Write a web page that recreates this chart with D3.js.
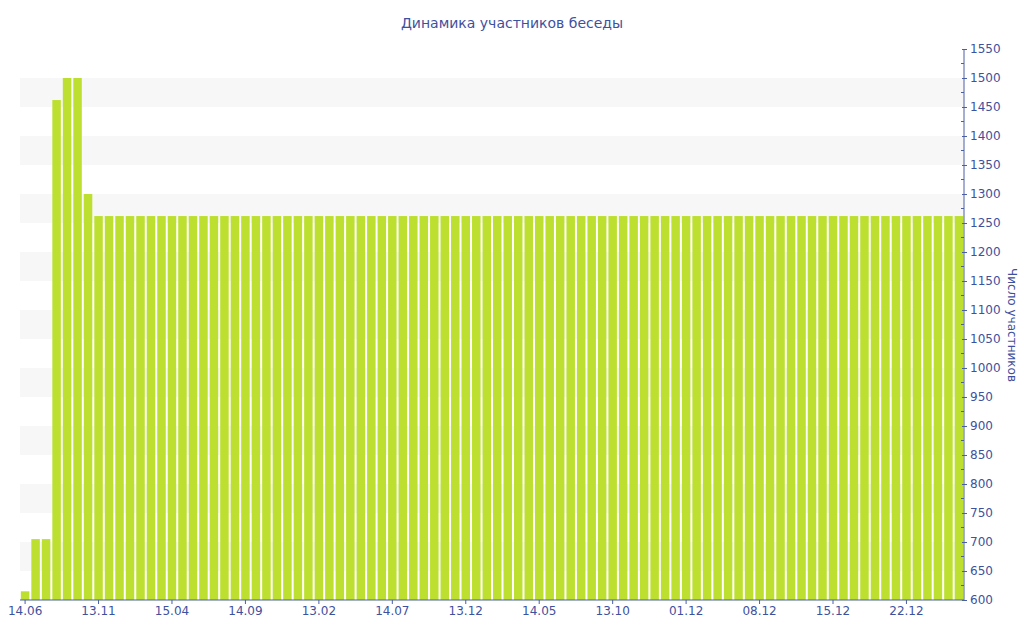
<!DOCTYPE html>
<html><head><meta charset="utf-8">
<script src="https://cdn.jsdelivr.net/npm/d3@7"></script>
<style>body{margin:0;background:#fff}svg{display:block}text{font-family:"DejaVu Sans",Verdana,sans-serif}</style>
</head><body>
<svg id="c" width="1024" height="640"></svg>
<script>
const title = "Динамика участников беседы";
const yTitle = "Число участников";
const tickLabels = ["14.06","13.11","15.04","14.09","13.02","14.07","13.12","14.05","13.10","01.12","08.12","15.12","22.12"];
const values = [615,705,705,1462,1500,1500,1300,
1262,1262,1262,1262,1262,1262,1262,1262,1262,1262,
1262,1262,1262,1262,1262,1262,1262,1262,1262,1262,
1262,1262,1262,1262,1262,1262,1262,1262,1262,1262,
1262,1262,1262,1262,1262,1262,1262,1262,1262,1262,
1262,1262,1262,1262,1262,1262,1262,1262,1262,1262,
1262,1262,1262,1262,1262,1262,1262,1262,1262,1262,
1262,1262,1262,1262,1262,1262,1262,1262,1262,1262,
1262,1262,1262,1262,1262,1262,1262,1262,1262,1262,
1262,1262,1262];
const yTicks = [600,650,700,750,800,850,900,950,1000,1050,1100,1150,1200,1250,1300,1350,1400,1450,1500,1550];
const stripes = [[650,700],[750,800],[850,900],[950,1000],[1050,1100],[1150,1200],[1250,1300],[1350,1400],[1450,1500]];

const axisColor = "#4a5ea6", textColor = "#3e519e", barColor = "#bde030";
const L = 20, R = 964, T = 49, B = 600;
const svg = d3.select("#c");
const idx = d3.range(values.length);
const x = d3.scaleBand().domain(idx).range([L, R]).paddingInner(0.19).paddingOuter(0.08);
const y = d3.scaleLinear().domain([600, 1550]).range([B, T]);

svg.append("g").selectAll("rect").data(stripes).join("rect")
  .attr("x", L).attr("width", R - L)
  .attr("y", d => y(d[1])).attr("height", d => y(d[0]) - y(d[1]))
  .attr("fill", "#f7f7f7");

svg.append("g").selectAll("rect").data(values).join("rect")
  .attr("x", (d, i) => x(i)).attr("width", x.bandwidth())
  .attr("y", d => y(d)).attr("height", d => y(600) - y(d))
  .attr("fill", barColor);

// right axis
const ya = d3.axisRight(y).tickValues(yTicks).tickSize(3).tickPadding(3).tickFormat(d3.format("d"));
const gy = svg.append("g").attr("transform", `translate(${R},0)`).call(ya);
gy.select(".domain").attr("stroke", axisColor).attr("d", `M0,${T}V${B}`);
gy.selectAll(".tick line").attr("stroke", axisColor).attr("x1", -2);
gy.selectAll(".tick text").attr("fill", textColor).style("font-size", "12px");
// minor ticks
gy.append("g").selectAll("line").data(yTicks.slice(0, -1).map(v => v + 25)).join("line")
  .attr("x1", -3).attr("x2", 0).attr("y1", d => y(d)).attr("y2", d => y(d)).attr("stroke", axisColor);

// bottom axis
const tickIdx = tickLabels.map((t, k) => k * 7);
const xa = d3.axisBottom(x).tickValues(tickIdx).tickSize(4).tickPadding(2).tickFormat((d) => tickLabels[d / 7]);
const gx = svg.append("g").attr("transform", `translate(0,${B})`).call(xa);
gx.select(".domain").attr("stroke", axisColor).attr("d", `M${L},0H${R}`);
gx.selectAll(".tick line").attr("stroke", axisColor);
gx.selectAll(".tick text").attr("fill", textColor).style("font-size", "12px");

svg.append("text").attr("x", 512).attr("y", 28).attr("text-anchor", "middle")
  .attr("fill", textColor).style("font-size", "14px").text(title);
svg.append("text").attr("transform", "translate(1008,325) rotate(90)").attr("text-anchor", "middle")
  .attr("fill", textColor).style("font-size", "12px").text(yTitle);
</script>
</body></html>
